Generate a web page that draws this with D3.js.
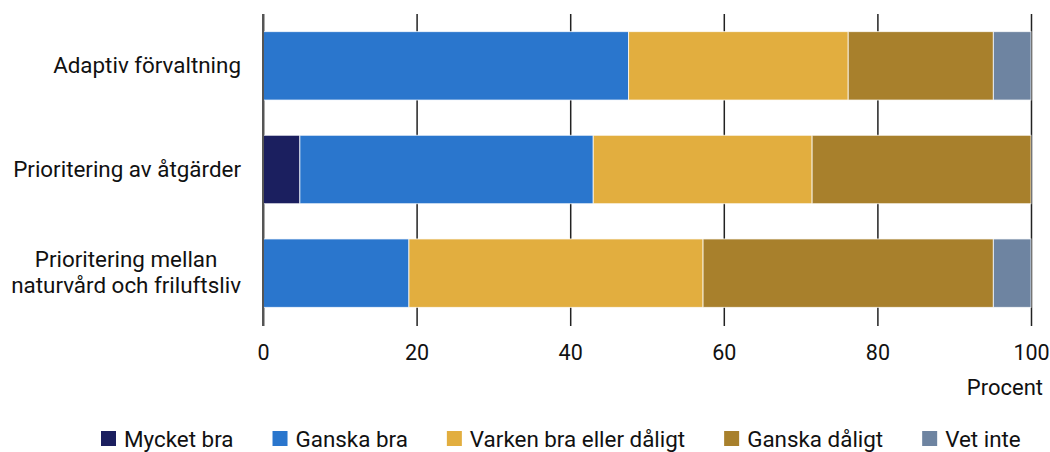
<!DOCTYPE html>
<html><head><meta charset="utf-8">
<script src="https://cdn.jsdelivr.net/npm/d3@7"></script>
<style>body{margin:0;background:#fff}svg{display:block}</style>
</head><body>
<svg id="c" width="1050" height="452"></svg>
<script>
const categories = ["Adaptiv förvaltning", "Prioritering av åtgärder", "Prioritering mellan\nnaturvård och friluftsliv"];
const seriesNames = ["Mycket bra", "Ganska bra", "Varken bra eller dåligt", "Ganska dåligt", "Vet inte"];
const colors = ["#1b1f5f", "#2a76cd", "#e2ae3f", "#a8802c", "#6e84a1"];
const mycketBra = [0, 4.8, 0];
const ganskaBra = [47.6, 38.2, 19.0];
const varken = [28.6, 28.5, 38.3];
const ganskaDaligt = [18.9, 28.5, 37.8];
const vetInte = [4.9, 0, 4.9];
const xTicks = [0, 20, 40, 60, 80, 100];
const xTitle = "Procent";

const series = [mycketBra, ganskaBra, varken, ganskaDaligt, vetInte];
const FONT = "Roboto, 'Liberation Sans', sans-serif";
const svg = d3.select("#c");
const x = d3.scaleLinear().domain([0, 100]).range([263, 1031]);
const y = d3.scaleBand().domain(categories).range([14, 325]).paddingInner(0.34).paddingOuter(0.17);

// gridlines
const xAxis = d3.axisBottom(x).tickValues(xTicks).tickSize(-(326 - 14)).tickFormat(d => d);
const gx = svg.append("g").attr("transform", "translate(0,326)").call(xAxis);
gx.select(".domain").remove();
gx.selectAll(".tick line").attr("stroke", d => d === 0 ? "#555" : "#222").attr("stroke-width", d => d === 0 ? 2 : 1.5);
gx.selectAll(".tick text").attr("font-family", FONT).attr("font-size", 21.5).attr("fill", "#111").attr("y", 0).attr("dy", 34);

// stacked bars
const rows = categories.map((c, i) => {
  let acc = 0;
  return series.map((s, k) => { const v = s[i]; const r = {cat: c, k, x0: acc, x1: acc + v}; acc += v; return r; });
});
svg.append("g").selectAll("g").data(rows).join("g")
  .selectAll("rect").data(d => d.filter(r => r.x1 > r.x0)).join("rect")
  .attr("x", d => x(d.x0)).attr("width", d => x(d.x1) - x(d.x0))
  .attr("y", d => y(d.cat)).attr("height", y.bandwidth())
  .attr("fill", d => colors[d.k]).attr("stroke", "#fff").attr("stroke-opacity", 0.75).attr("stroke-width", 1);

// axis line over bars
svg.append("line").attr("x1", x(0)).attr("x2", x(0)).attr("y1", 14).attr("y2", 326).attr("stroke", "#555").attr("stroke-width", 2);

// category labels (block right-aligned, lines centred within block)
categories.forEach(c => {
  const lines = c.split("\n");
  const cy = y(c) + y.bandwidth() / 2;
  const lh = 26;
  const t = svg.append("text").attr("font-family", FONT).attr("font-size", 22.4).attr("fill", "#111").attr("text-anchor", "middle");
  const spans = lines.map((l, j) => t.append("tspan").attr("y", cy + 7 + (j - (lines.length - 1) / 2) * lh).text(l));
  const maxW = d3.max(spans, s => s.node().getComputedTextLength());
  spans.forEach(s => s.attr("x", 241 - maxW / 2));
});

svg.append("text").attr("x", 1043).attr("y", 395).attr("text-anchor", "end")
  .attr("font-family", FONT).attr("font-size", 22).attr("fill", "#111").text(xTitle);

// legend
let lx = 101;
seriesNames.forEach((n, k) => {
  svg.append("rect").attr("x", lx).attr("y", 431).attr("width", 15).attr("height", 15).attr("fill", colors[k]);
  const t = svg.append("text").attr("x", lx + 23).attr("y", 447).attr("font-family", FONT).attr("font-size", 22.4).attr("fill", "#111").text(n);
  lx += 23 + t.node().getComputedTextLength() + 39;
});
</script>
</body></html>
